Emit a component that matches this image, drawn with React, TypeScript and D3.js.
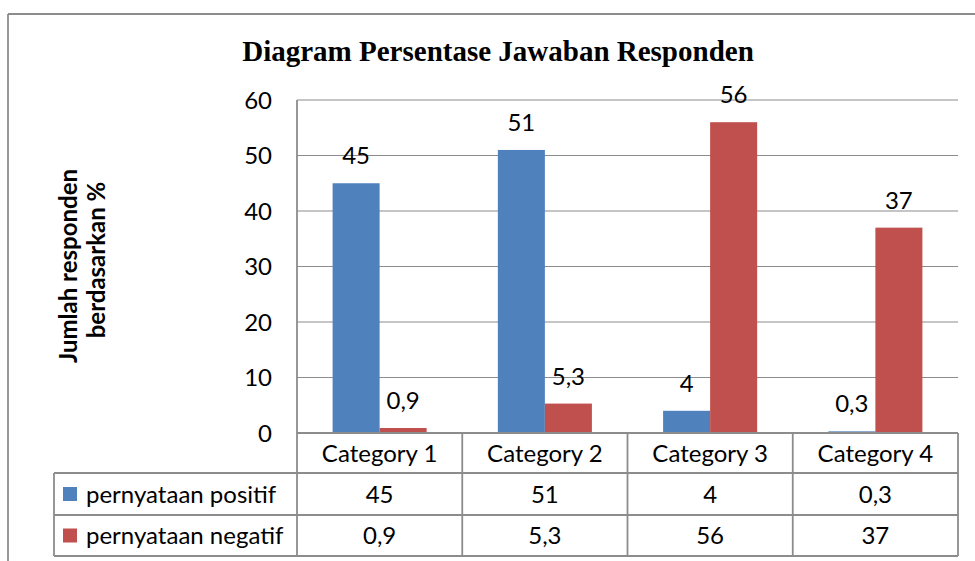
import React from "react";
import * as d3 from "d3";

const categories = ["Category 1", "Category 2", "Category 3", "Category 4"];
const seriesNames = ["pernyataan positif", "pernyataan negatif"];
const positif = [45, 51, 4, 0.3];
const negatif = [0.9, 5.3, 56, 37];
const yTicks = [0, 10, 20, 30, 40, 50, 60];
const seriesColors = ["#4F81BD", "#C0504D"];
const titleText = "Diagram Persentase Jawaban Responden";
const yTitleLines = ["Jumlah responden", "berdasarkan %"];

const locale = d3.formatLocale({ decimal: ",", thousands: ".", grouping: [3], currency: ["", ""] });
const fmt = (v: number) => locale.format("~g")(v);

const W = 975;
const H = 561;
const plotLeft = 297;
const plotRight = 958;
const plotTop = 100;
const plotBottom = 433;
const rowH = [40, 42, 41];
const legendLeft = 54;
const font = "Lato, 'Open Sans', sans-serif";
const fs = 24;
const grid = "#8C8C8C";

export default function App() {
  const y = d3.scaleLinear().domain([0, 60]).range([plotBottom, plotTop]);
  const x0 = d3.scaleBand<string>().domain(categories).range([plotLeft, plotRight]).paddingInner(0).paddingOuter(0);
  const x1 = d3.scaleBand<string>().domain(seriesNames).range([0, x0.bandwidth()]).paddingInner(0).paddingOuter(0.757);
  const series = [positif, negatif];
  const row1Top = plotBottom + rowH[0];
  const row2Top = row1Top + rowH[1];
  const tableBottom = row2Top + rowH[2];

  return (
    <svg width={W} height={H} style={{ position: "absolute", left: 0, top: 0, background: "#fff" }}>
      <rect x={0} y={0} width={W} height={H} fill="#fff" />
      {/* outer chart border */}
      <line x1={8} y1={14} x2={W} y2={14} stroke={grid} strokeWidth={1.8} />
      <line x1={8} y1={14} x2={8} y2={H} stroke={grid} strokeWidth={1.8} />

      <text x={498} y={61} textAnchor="middle" fontFamily="'Liberation Serif', 'Times New Roman', serif" fontWeight="bold" fontSize={29}>
        {titleText}
      </text>

      {/* y axis title */}
      <g fontFamily={font} fontWeight="bold" fontSize={24}>
        <text transform="translate(77,266) rotate(-90)" textAnchor="middle">{yTitleLines[0]}</text>
        <text transform="translate(105,260) rotate(-90)" textAnchor="middle">{yTitleLines[1]}</text>
      </g>

      {/* gridlines */}
      {yTicks.filter((t) => t > 0).map((t) => (
        <line key={t} x1={plotLeft} x2={plotRight} y1={y(t)} y2={y(t)} stroke={grid} strokeWidth={1.2} />
      ))}
      {yTicks.map((t) => (
        <text key={"l" + t} x={272} y={y(t)} dy="0.36em" textAnchor="end" fontFamily={font} fontSize={fs}>
          {t}
        </text>
      ))}

      {/* bars */}
      {categories.map((c, i) => (
        <g key={c}>
          {series.map((s, j) => {
            const bx = (x0(c) as number) + (x1(seriesNames[j]) as number);
            const bw = x1.bandwidth();
            return (
              <g key={j}>
                <rect x={bx} y={y(s[i])} width={bw} height={plotBottom - y(s[i])} fill={seriesColors[j]} />
                <text x={bx + bw / 2} y={y(s[i]) - 19} textAnchor="middle" fontFamily={font} fontSize={fs}>
                  {fmt(s[i])}
                </text>
              </g>
            );
          })}
        </g>
      ))}

      {/* data table */}
      <g stroke={grid} strokeWidth={1.8}>
        <line x1={plotLeft} x2={plotRight} y1={plotBottom} y2={plotBottom} />
        <line x1={legendLeft} x2={plotRight} y1={row1Top} y2={row1Top} />
        <line x1={legendLeft} x2={plotRight} y1={row2Top} y2={row2Top} />
        <line x1={legendLeft} x2={plotRight} y1={tableBottom} y2={tableBottom} />
        <line x1={legendLeft} x2={legendLeft} y1={row1Top} y2={tableBottom} />
        <line x1={plotLeft} x2={plotLeft} y1={plotTop} y2={tableBottom} />
        {categories.map((c) => (
          <line key={c} x1={(x0(c) as number) + x0.bandwidth()} x2={(x0(c) as number) + x0.bandwidth()} y1={plotBottom} y2={tableBottom} />
        ))}
      </g>
      {categories.map((c, i) => (
        <g key={"t" + c} fontFamily={font} fontSize={fs} textAnchor="middle">
          <text x={(x0(c) as number) + x0.bandwidth() / 2} y={plotBottom + rowH[0] / 2} dy="0.36em">{c}</text>
          <text x={(x0(c) as number) + x0.bandwidth() / 2} y={row1Top + rowH[1] / 2} dy="0.36em">{fmt(positif[i])}</text>
          <text x={(x0(c) as number) + x0.bandwidth() / 2} y={row2Top + rowH[2] / 2} dy="0.36em">{fmt(negatif[i])}</text>
        </g>
      ))}
      {seriesNames.map((n, j) => {
        const top = j === 0 ? row1Top : row2Top;
        const h = rowH[j + 1];
        return (
          <g key={n}>
            <rect x={63} y={top + h / 2 - 7} width={14} height={14} fill={seriesColors[j]} />
            <text x={86} y={top + h / 2} dy="0.36em" fontFamily={font} fontSize={fs}>{n}</text>
          </g>
        );
      })}
    </svg>
  );
}
